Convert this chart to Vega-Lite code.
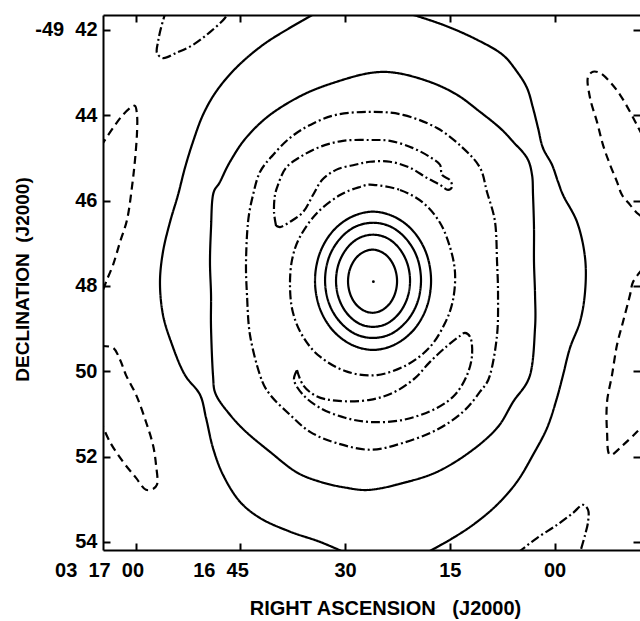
{
"$schema": "https://vega.github.io/schema/vega-lite/v6.json",
"width": 537, "height": 535,
"autosize": {"type": "none"},
"padding": {"left": 103, "top": 15, "right": 0, "bottom": 71},
"background": "white",
"config": {
 "view": {"stroke": null},
 "font": "Liberation Sans",
 "axis": {"domainColor": "black", "domainWidth": 2, "tickColor": "black", "tickWidth": 2, "tickSize": -7, "grid": false,
  "labelColor": "black", "labelFont": "Liberation Sans", "labelFontSize": 20, "labelFontWeight": "bold",
  "titleFont": "Liberation Sans", "titleFontSize": 20, "titleFontWeight": "bold", "titleColor": "black",
  "labelOverlap": false, "labelFlush": false}
},
"datasets": {
 "closed": [
  {"c":"B","k":"positive","i":0,"ra":26.42,"dec":43.01},{"c":"B","k":"positive","i":1,"ra":22.56,"dec":43.01},{"c":"B","k":"positive","i":2,"ra":17.83,"dec":43.22},{"c":"B","k":"positive","i":3,"ra":13.96,"dec":43.52},{"c":"B","k":"positive","i":4,"ra":10.67,"dec":43.92},{"c":"B","k":"positive","i":5,"ra":7.80,"dec":44.30},{"c":"B","k":"positive","i":6,"ra":5.94,"dec":44.62},{"c":"B","k":"positive","i":7,"ra":3.94,"dec":45.00},{"c":"B","k":"positive","i":8,"ra":3.22,"dec":45.40},{"c":"B","k":"positive","i":9,"ra":3.08,"dec":45.87},{"c":"B","k":"positive","i":10,"ra":2.94,"dec":46.64},{"c":"B","k":"positive","i":11,"ra":2.94,"dec":47.44},{"c":"B","k":"positive","i":12,"ra":2.79,"dec":48.21},{"c":"B","k":"positive","i":13,"ra":2.79,"dec":48.98},{"c":"B","k":"positive","i":14,"ra":3.51,"dec":50.09},{"c":"B","k":"positive","i":15,"ra":5.94,"dec":50.72},{"c":"B","k":"positive","i":16,"ra":8.23,"dec":51.33},{"c":"B","k":"positive","i":17,"ra":12.10,"dec":51.89},{"c":"B","k":"positive","i":18,"ra":16.83,"dec":52.36},{"c":"B","k":"positive","i":19,"ra":21.70,"dec":52.62},{"c":"B","k":"positive","i":20,"ra":26.42,"dec":52.78},{"c":"B","k":"positive","i":21,"ra":29.86,"dec":52.73},{"c":"B","k":"positive","i":22,"ra":33.58,"dec":52.59},{"c":"B","k":"positive","i":23,"ra":37.02,"dec":52.36},{"c":"B","k":"positive","i":24,"ra":40.74,"dec":51.89},{"c":"B","k":"positive","i":25,"ra":44.18,"dec":51.42},{"c":"B","k":"positive","i":26,"ra":46.47,"dec":51.02},{"c":"B","k":"positive","i":27,"ra":48.48,"dec":50.55},{"c":"B","k":"positive","i":28,"ra":48.91,"dec":50.09},{"c":"B","k":"positive","i":29,"ra":49.19,"dec":48.98},{"c":"B","k":"positive","i":30,"ra":49.19,"dec":48.21},{"c":"B","k":"positive","i":31,"ra":49.34,"dec":47.44},{"c":"B","k":"positive","i":32,"ra":49.19,"dec":46.64},{"c":"B","k":"positive","i":33,"ra":48.91,"dec":45.87},{"c":"B","k":"positive","i":34,"ra":47.90,"dec":45.56},{"c":"B","k":"positive","i":35,"ra":46.47,"dec":45.09},{"c":"B","k":"positive","i":36,"ra":44.18,"dec":44.53},{"c":"B","k":"positive","i":37,"ra":40.74,"dec":43.99},{"c":"B","k":"positive","i":38,"ra":36.02,"dec":43.52},{"c":"B","k":"positive","i":39,"ra":31.29,"dec":43.22},
  {"c":"C","k":"low","i":0,"ra":26.42,"dec":43.92},{"c":"C","k":"low","i":1,"ra":21.70,"dec":43.99},{"c":"C","k":"low","i":2,"ra":16.83,"dec":44.30},{"c":"C","k":"low","i":3,"ra":13.10,"dec":44.77},{"c":"C","k":"low","i":4,"ra":10.67,"dec":45.23},{"c":"C","k":"low","i":5,"ra":9.67,"dec":45.80},{"c":"C","k":"low","i":6,"ra":8.52,"dec":46.50},{"c":"C","k":"low","i":7,"ra":8.23,"dec":47.44},{"c":"C","k":"low","i":8,"ra":8.09,"dec":48.21},{"c":"C","k":"low","i":9,"ra":8.23,"dec":49.15},{"c":"C","k":"low","i":10,"ra":9.24,"dec":50.09},{"c":"C","k":"low","i":11,"ra":10.67,"dec":50.48},{"c":"C","k":"low","i":12,"ra":13.10,"dec":50.95},{"c":"C","k":"low","i":13,"ra":16.83,"dec":51.37},{"c":"C","k":"low","i":14,"ra":21.70,"dec":51.68},{"c":"C","k":"low","i":15,"ra":26.42,"dec":51.84},{"c":"C","k":"low","i":16,"ra":31.29,"dec":51.68},{"c":"C","k":"low","i":17,"ra":35.01,"dec":51.42},{"c":"C","k":"low","i":18,"ra":37.88,"dec":51.02},{"c":"C","k":"low","i":19,"ra":40.74,"dec":50.55},{"c":"C","k":"low","i":20,"ra":42.18,"dec":50.09},{"c":"C","k":"low","i":21,"ra":43.61,"dec":49.15},{"c":"C","k":"low","i":22,"ra":44.04,"dec":48.21},{"c":"C","k":"low","i":23,"ra":44.18,"dec":47.44},{"c":"C","k":"low","i":24,"ra":43.89,"dec":46.50},{"c":"C","k":"low","i":25,"ra":43.18,"dec":45.87},{"c":"C","k":"low","i":26,"ra":42.18,"dec":45.33},{"c":"C","k":"low","i":27,"ra":40.31,"dec":44.93},{"c":"C","k":"low","i":28,"ra":37.88,"dec":44.53},{"c":"C","k":"low","i":29,"ra":35.01,"dec":44.23},{"c":"C","k":"low","i":30,"ra":31.29,"dec":43.99},
  {"c":"E","k":"low","i":0,"ra":25.99,"dec":45.63},{"c":"E","k":"low","i":1,"ra":22.13,"dec":45.75},{"c":"E","k":"low","i":2,"ra":18.83,"dec":46.05},{"c":"E","k":"low","i":3,"ra":16.40,"dec":46.52},{"c":"E","k":"low","i":4,"ra":14.97,"dec":47.09},{"c":"E","k":"low","i":5,"ra":14.25,"dec":47.69},{"c":"E","k":"low","i":6,"ra":14.54,"dec":48.33},{"c":"E","k":"low","i":7,"ra":15.68,"dec":48.87},{"c":"E","k":"low","i":8,"ra":17.83,"dec":49.43},{"c":"E","k":"low","i":9,"ra":21.12,"dec":49.85},{"c":"E","k":"low","i":10,"ra":25.42,"dec":50.09},{"c":"E","k":"low","i":11,"ra":29.72,"dec":50.01},{"c":"E","k":"low","i":12,"ra":33.58,"dec":49.66},{"c":"E","k":"low","i":13,"ra":36.02,"dec":49.19},{"c":"E","k":"low","i":14,"ra":37.45,"dec":48.63},{"c":"E","k":"low","i":15,"ra":37.88,"dec":48.02},{"c":"E","k":"low","i":16,"ra":37.59,"dec":47.39},{"c":"E","k":"low","i":17,"ra":36.45,"dec":46.85},{"c":"E","k":"low","i":18,"ra":34.01,"dec":46.29},{"c":"E","k":"low","i":19,"ra":30.72,"dec":45.87},{"c":"E","k":"low","i":20,"ra":27.85,"dec":45.68},
  {"c":"R1","k":"positive","i":0,"ra":34.30,"dec":47.88},{"c":"R1","k":"positive","i":1,"ra":33.67,"dec":48.50},{"c":"R1","k":"positive","i":2,"ra":31.87,"dec":49.02},{"c":"R1","k":"positive","i":3,"ra":29.17,"dec":49.37},{"c":"R1","k":"positive","i":4,"ra":25.99,"dec":49.50},{"c":"R1","k":"positive","i":5,"ra":22.81,"dec":49.37},{"c":"R1","k":"positive","i":6,"ra":20.11,"dec":49.02},{"c":"R1","k":"positive","i":7,"ra":18.31,"dec":48.50},{"c":"R1","k":"positive","i":8,"ra":17.68,"dec":47.88},{"c":"R1","k":"positive","i":9,"ra":18.31,"dec":47.26},{"c":"R1","k":"positive","i":10,"ra":20.11,"dec":46.74},{"c":"R1","k":"positive","i":11,"ra":22.81,"dec":46.39},{"c":"R1","k":"positive","i":12,"ra":25.99,"dec":46.26},{"c":"R1","k":"positive","i":13,"ra":29.17,"dec":46.39},{"c":"R1","k":"positive","i":14,"ra":31.87,"dec":46.74},{"c":"R1","k":"positive","i":15,"ra":33.67,"dec":47.26},
  {"c":"R2","k":"positive","i":0,"ra":32.86,"dec":47.87},{"c":"R2","k":"positive","i":1,"ra":32.34,"dec":48.39},{"c":"R2","k":"positive","i":2,"ra":30.85,"dec":48.82},{"c":"R2","k":"positive","i":3,"ra":28.62,"dec":49.12},{"c":"R2","k":"positive","i":4,"ra":25.99,"dec":49.22},{"c":"R2","k":"positive","i":5,"ra":23.36,"dec":49.12},{"c":"R2","k":"positive","i":6,"ra":21.13,"dec":48.82},{"c":"R2","k":"positive","i":7,"ra":19.64,"dec":48.39},{"c":"R2","k":"positive","i":8,"ra":19.12,"dec":47.87},{"c":"R2","k":"positive","i":9,"ra":19.64,"dec":47.35},{"c":"R2","k":"positive","i":10,"ra":21.13,"dec":46.92},{"c":"R2","k":"positive","i":11,"ra":23.36,"dec":46.62},{"c":"R2","k":"positive","i":12,"ra":25.99,"dec":46.52},{"c":"R2","k":"positive","i":13,"ra":28.62,"dec":46.62},{"c":"R2","k":"positive","i":14,"ra":30.85,"dec":46.92},{"c":"R2","k":"positive","i":15,"ra":32.34,"dec":47.35},
  {"c":"R3","k":"positive","i":0,"ra":31.29,"dec":47.88},{"c":"R3","k":"positive","i":1,"ra":30.89,"dec":48.29},{"c":"R3","k":"positive","i":2,"ra":29.74,"dec":48.64},{"c":"R3","k":"positive","i":3,"ra":28.02,"dec":48.88},{"c":"R3","k":"positive","i":4,"ra":25.99,"dec":48.96},{"c":"R3","k":"positive","i":5,"ra":23.96,"dec":48.88},{"c":"R3","k":"positive","i":6,"ra":22.24,"dec":48.64},{"c":"R3","k":"positive","i":7,"ra":21.09,"dec":48.29},{"c":"R3","k":"positive","i":8,"ra":20.69,"dec":47.88},{"c":"R3","k":"positive","i":9,"ra":21.09,"dec":47.47},{"c":"R3","k":"positive","i":10,"ra":22.24,"dec":47.12},{"c":"R3","k":"positive","i":11,"ra":23.96,"dec":46.88},{"c":"R3","k":"positive","i":12,"ra":25.99,"dec":46.80},{"c":"R3","k":"positive","i":13,"ra":28.02,"dec":46.88},{"c":"R3","k":"positive","i":14,"ra":29.74,"dec":47.12},{"c":"R3","k":"positive","i":15,"ra":30.89,"dec":47.47},
  {"c":"R4","k":"positive","i":0,"ra":29.57,"dec":47.89},{"c":"R4","k":"positive","i":1,"ra":29.30,"dec":48.17},{"c":"R4","k":"positive","i":2,"ra":28.54,"dec":48.41},{"c":"R4","k":"positive","i":3,"ra":27.40,"dec":48.57},{"c":"R4","k":"positive","i":4,"ra":26.06,"dec":48.63},{"c":"R4","k":"positive","i":5,"ra":24.72,"dec":48.57},{"c":"R4","k":"positive","i":6,"ra":23.58,"dec":48.41},{"c":"R4","k":"positive","i":7,"ra":22.82,"dec":48.17},{"c":"R4","k":"positive","i":8,"ra":22.55,"dec":47.89},{"c":"R4","k":"positive","i":9,"ra":22.82,"dec":47.61},{"c":"R4","k":"positive","i":10,"ra":23.58,"dec":47.37},{"c":"R4","k":"positive","i":11,"ra":24.72,"dec":47.21},{"c":"R4","k":"positive","i":12,"ra":26.06,"dec":47.15},{"c":"R4","k":"positive","i":13,"ra":27.40,"dec":47.21},{"c":"R4","k":"positive","i":14,"ra":28.54,"dec":47.37},{"c":"R4","k":"positive","i":15,"ra":29.30,"dec":47.61}
 ],
 "open": [
  {"c":"A1","k":"positive","i":0,"ra":33.58,"dec":41.55},{"c":"A1","k":"positive","i":1,"ra":37.88,"dec":41.95},{"c":"A1","k":"positive","i":2,"ra":41.75,"dec":42.35},{"c":"A1","k":"positive","i":3,"ra":45.61,"dec":42.89},{"c":"A1","k":"positive","i":4,"ra":48.48,"dec":43.45},{"c":"A1","k":"positive","i":5,"ra":50.34,"dec":43.99},{"c":"A1","k":"positive","i":6,"ra":51.77,"dec":44.62},{"c":"A1","k":"positive","i":7,"ra":52.92,"dec":45.23},{"c":"A1","k":"positive","i":8,"ra":53.92,"dec":45.87},{"c":"A1","k":"positive","i":9,"ra":55.06,"dec":46.50},{"c":"A1","k":"positive","i":10,"ra":56.07,"dec":47.20},{"c":"A1","k":"positive","i":11,"ra":56.50,"dec":47.91},{"c":"A1","k":"positive","i":12,"ra":56.07,"dec":48.68},{"c":"A1","k":"positive","i":13,"ra":54.92,"dec":49.31},{"c":"A1","k":"positive","i":14,"ra":52.92,"dec":50.09},{"c":"A1","k":"positive","i":15,"ra":50.77,"dec":50.55},{"c":"A1","k":"positive","i":16,"ra":49.91,"dec":51.09},{"c":"A1","k":"positive","i":17,"ra":48.91,"dec":51.80},{"c":"A1","k":"positive","i":18,"ra":47.47,"dec":52.43},{"c":"A1","k":"positive","i":19,"ra":45.04,"dec":53.06},{"c":"A1","k":"positive","i":20,"ra":42.18,"dec":53.44},{"c":"A1","k":"positive","i":21,"ra":37.88,"dec":53.76},{"c":"A1","k":"positive","i":22,"ra":33.58,"dec":54.00},{"c":"A1","k":"positive","i":23,"ra":30.00,"dec":54.25},
  {"c":"A2","k":"positive","i":0,"ra":22.13,"dec":41.55},{"c":"A2","k":"positive","i":1,"ra":15.97,"dec":41.88},{"c":"A2","k":"positive","i":2,"ra":11.10,"dec":42.23},{"c":"A2","k":"positive","i":3,"ra":7.38,"dec":42.59},{"c":"A2","k":"positive","i":4,"ra":5.37,"dec":42.98},{"c":"A2","k":"positive","i":5,"ra":3.94,"dec":43.36},{"c":"A2","k":"positive","i":6,"ra":3.08,"dec":43.83},{"c":"A2","k":"positive","i":7,"ra":2.36,"dec":44.30},{"c":"A2","k":"positive","i":8,"ra":1.65,"dec":44.77},{"c":"A2","k":"positive","i":9,"ra":0.36,"dec":45.16},{"c":"A2","k":"positive","i":10,"ra":-0.50,"dec":45.56},{"c":"A2","k":"positive","i":11,"ra":-1.22,"dec":45.87},{"c":"A2","k":"positive","i":12,"ra":-3.22,"dec":46.50},{"c":"A2","k":"positive","i":13,"ra":-4.37,"dec":47.34},{"c":"A2","k":"positive","i":14,"ra":-4.37,"dec":48.14},{"c":"A2","k":"positive","i":15,"ra":-3.65,"dec":48.84},{"c":"A2","k":"positive","i":16,"ra":-2.22,"dec":49.45},{"c":"A2","k":"positive","i":17,"ra":-1.22,"dec":50.09},{"c":"A2","k":"positive","i":18,"ra":-0.36,"dec":50.62},{"c":"A2","k":"positive","i":19,"ra":1.07,"dec":51.33},{"c":"A2","k":"positive","i":20,"ra":3.08,"dec":51.96},{"c":"A2","k":"positive","i":21,"ra":5.37,"dec":52.59},{"c":"A2","k":"positive","i":22,"ra":8.23,"dec":53.13},{"c":"A2","k":"positive","i":23,"ra":11.67,"dec":53.60},{"c":"A2","k":"positive","i":24,"ra":14.97,"dec":53.95},{"c":"A2","k":"positive","i":25,"ra":18.26,"dec":54.25},
  {"c":"D","k":"low","i":0,"ra":39.88,"dec":46.59},{"c":"D","k":"low","i":1,"ra":40.17,"dec":46.27},{"c":"D","k":"low","i":2,"ra":40.03,"dec":45.87},{"c":"D","k":"low","i":3,"ra":39.60,"dec":45.63},{"c":"D","k":"low","i":4,"ra":38.45,"dec":45.23},{"c":"D","k":"low","i":5,"ra":36.45,"dec":44.98},{"c":"D","k":"low","i":6,"ra":33.58,"dec":44.74},{"c":"D","k":"low","i":7,"ra":30.29,"dec":44.60},{"c":"D","k":"low","i":8,"ra":26.42,"dec":44.58},{"c":"D","k":"low","i":9,"ra":23.56,"dec":44.60},{"c":"D","k":"low","i":10,"ra":20.26,"dec":44.77},{"c":"D","k":"low","i":11,"ra":17.83,"dec":44.98},{"c":"D","k":"low","i":12,"ra":16.40,"dec":45.16},{"c":"D","k":"low","i":13,"ra":16.11,"dec":45.40},{"c":"D","k":"low","i":14,"ra":14.97,"dec":45.52},{"c":"D","k":"low","i":15,"ra":14.68,"dec":45.68},{"c":"D","k":"low","i":16,"ra":15.25,"dec":45.75},{"c":"D","k":"low","i":17,"ra":16.40,"dec":45.63},{"c":"D","k":"low","i":18,"ra":18.26,"dec":45.47},{"c":"D","k":"low","i":19,"ra":20.69,"dec":45.23},{"c":"D","k":"low","i":20,"ra":23.56,"dec":45.09},{"c":"D","k":"low","i":21,"ra":26.42,"dec":45.09},{"c":"D","k":"low","i":22,"ra":28.57,"dec":45.16},{"c":"D","k":"low","i":23,"ra":31.29,"dec":45.28},{"c":"D","k":"low","i":24,"ra":33.30,"dec":45.52},{"c":"D","k":"low","i":25,"ra":34.59,"dec":45.87},{"c":"D","k":"low","i":26,"ra":36.02,"dec":46.27},{"c":"D","k":"low","i":27,"ra":37.88,"dec":46.50},{"c":"D","k":"low","i":28,"ra":39.31,"dec":46.62},{"c":"D","k":"low","i":29,"ra":39.88,"dec":46.59},
  {"c":"F","k":"low","i":0,"ra":36.88,"dec":49.97},{"c":"F","k":"low","i":1,"ra":36.02,"dec":50.32},{"c":"F","k":"low","i":2,"ra":34.16,"dec":50.58},{"c":"F","k":"low","i":3,"ra":31.29,"dec":50.69},{"c":"F","k":"low","i":4,"ra":26.42,"dec":50.67},{"c":"F","k":"low","i":5,"ra":22.84,"dec":50.48},{"c":"F","k":"low","i":6,"ra":19.98,"dec":50.16},{"c":"F","k":"low","i":7,"ra":17.83,"dec":49.78},{"c":"F","k":"low","i":8,"ra":15.40,"dec":49.41},{"c":"F","k":"low","i":9,"ra":13.53,"dec":49.17},{"c":"F","k":"low","i":10,"ra":12.82,"dec":49.10},{"c":"F","k":"low","i":11,"ra":12.10,"dec":49.19},{"c":"F","k":"low","i":12,"ra":11.81,"dec":49.62},{"c":"F","k":"low","i":13,"ra":12.53,"dec":50.09},{"c":"F","k":"low","i":14,"ra":14.25,"dec":50.55},{"c":"F","k":"low","i":15,"ra":16.83,"dec":50.86},{"c":"F","k":"low","i":16,"ra":21.70,"dec":51.14},{"c":"F","k":"low","i":17,"ra":26.42,"dec":51.19},{"c":"F","k":"low","i":18,"ra":30.00,"dec":51.09},{"c":"F","k":"low","i":19,"ra":33.58,"dec":50.86},{"c":"F","k":"low","i":20,"ra":36.02,"dec":50.55},{"c":"F","k":"low","i":21,"ra":37.31,"dec":50.20},{"c":"F","k":"low","i":22,"ra":36.88,"dec":49.97},
  {"c":"G","k":"low","i":0,"ra":55.64,"dec":41.55},{"c":"G","k":"low","i":1,"ra":56.35,"dec":41.95},{"c":"G","k":"low","i":2,"ra":56.78,"dec":42.28},{"c":"G","k":"low","i":3,"ra":56.93,"dec":42.54},{"c":"G","k":"low","i":4,"ra":56.07,"dec":42.66},{"c":"G","k":"low","i":5,"ra":54.21,"dec":42.54},{"c":"G","k":"low","i":6,"ra":51.77,"dec":42.35},{"c":"G","k":"low","i":7,"ra":49.34,"dec":42.05},{"c":"G","k":"low","i":8,"ra":47.19,"dec":41.72},{"c":"G","k":"low","i":9,"ra":46.61,"dec":41.55},
  {"c":"H","k":"negative","i":0,"ra":64.95,"dec":44.72},{"c":"H","k":"negative","i":1,"ra":63.23,"dec":44.30},{"c":"H","k":"negative","i":2,"ra":61.80,"dec":43.99},{"c":"H","k":"negative","i":3,"ra":60.51,"dec":43.80},{"c":"H","k":"negative","i":4,"ra":60.08,"dec":43.78},{"c":"H","k":"negative","i":5,"ra":59.79,"dec":43.99},{"c":"H","k":"negative","i":6,"ra":59.79,"dec":44.41},{"c":"H","k":"negative","i":7,"ra":60.08,"dec":45.05},{"c":"H","k":"negative","i":8,"ra":60.51,"dec":45.68},{"c":"H","k":"negative","i":9,"ra":61.22,"dec":46.45},{"c":"H","k":"negative","i":10,"ra":62.22,"dec":46.97},{"c":"H","k":"negative","i":11,"ra":63.23,"dec":47.51},{"c":"H","k":"negative","i":12,"ra":64.23,"dec":47.91},{"c":"H","k":"negative","i":13,"ra":64.95,"dec":48.23},
  {"c":"I","k":"negative","i":0,"ra":64.95,"dec":49.41},{"c":"I","k":"negative","i":1,"ra":63.23,"dec":49.45},{"c":"I","k":"negative","i":2,"ra":62.22,"dec":49.73},{"c":"I","k":"negative","i":3,"ra":61.37,"dec":50.09},{"c":"I","k":"negative","i":4,"ra":59.93,"dec":50.55},{"c":"I","k":"negative","i":5,"ra":58.50,"dec":51.19},{"c":"I","k":"negative","i":6,"ra":57.50,"dec":51.73},{"c":"I","k":"negative","i":7,"ra":57.07,"dec":52.19},{"c":"I","k":"negative","i":8,"ra":56.93,"dec":52.66},{"c":"I","k":"negative","i":9,"ra":57.50,"dec":52.76},{"c":"I","k":"negative","i":10,"ra":58.50,"dec":52.78},{"c":"I","k":"negative","i":11,"ra":59.93,"dec":52.50},{"c":"I","k":"negative","i":12,"ra":61.80,"dec":52.12},{"c":"I","k":"negative","i":13,"ra":63.66,"dec":51.66},{"c":"I","k":"negative","i":14,"ra":64.95,"dec":51.19},
  {"c":"J","k":"negative","i":0,"ra":-12.53,"dec":44.46},{"c":"J","k":"negative","i":1,"ra":-11.81,"dec":44.23},{"c":"J","k":"negative","i":2,"ra":-10.81,"dec":43.92},{"c":"J","k":"negative","i":3,"ra":-9.38,"dec":43.52},{"c":"J","k":"negative","i":4,"ra":-7.95,"dec":43.22},{"c":"J","k":"negative","i":5,"ra":-6.52,"dec":43.01},{"c":"J","k":"negative","i":6,"ra":-5.51,"dec":42.98},{"c":"J","k":"negative","i":7,"ra":-4.80,"dec":43.10},{"c":"J","k":"negative","i":8,"ra":-5.08,"dec":43.59},{"c":"J","k":"negative","i":9,"ra":-6.09,"dec":44.16},{"c":"J","k":"negative","i":10,"ra":-6.95,"dec":44.70},{"c":"J","k":"negative","i":11,"ra":-7.95,"dec":45.16},{"c":"J","k":"negative","i":12,"ra":-8.95,"dec":45.56},{"c":"J","k":"negative","i":13,"ra":-9.67,"dec":45.87},{"c":"J","k":"negative","i":14,"ra":-10.81,"dec":46.10},{"c":"J","k":"negative","i":15,"ra":-11.81,"dec":46.29},{"c":"J","k":"negative","i":16,"ra":-12.53,"dec":46.38},
  {"c":"K","k":"negative","i":0,"ra":-12.53,"dec":47.62},{"c":"K","k":"negative","i":1,"ra":-11.24,"dec":47.91},{"c":"K","k":"negative","i":2,"ra":-10.81,"dec":48.21},{"c":"K","k":"negative","i":3,"ra":-9.81,"dec":48.84},{"c":"K","k":"negative","i":4,"ra":-8.95,"dec":49.38},{"c":"K","k":"negative","i":5,"ra":-8.23,"dec":50.09},{"c":"K","k":"negative","i":6,"ra":-7.52,"dec":50.72},{"c":"K","k":"negative","i":7,"ra":-7.52,"dec":51.42},{"c":"K","k":"negative","i":8,"ra":-7.95,"dec":51.96},{"c":"K","k":"negative","i":9,"ra":-9.81,"dec":51.73},{"c":"K","k":"negative","i":10,"ra":-11.81,"dec":51.42},{"c":"K","k":"negative","i":11,"ra":-12.53,"dec":51.30},
  {"c":"L","k":"low","i":0,"ra":5.23,"dec":54.25},{"c":"L","k":"low","i":1,"ra":2.51,"dec":53.91},{"c":"L","k":"low","i":2,"ra":-0.36,"dec":53.60},{"c":"L","k":"low","i":3,"ra":-2.65,"dec":53.32},{"c":"L","k":"low","i":4,"ra":-4.08,"dec":53.13},{"c":"L","k":"low","i":5,"ra":-4.80,"dec":53.25},{"c":"L","k":"low","i":6,"ra":-4.80,"dec":53.53},{"c":"L","k":"low","i":7,"ra":-4.37,"dec":53.84},{"c":"L","k":"low","i":8,"ra":-3.65,"dec":54.25}
 ],
 "peak": [{"ra": 25.94, "dec": 47.90}]
},
"resolve": {"axis": {"x": "independent", "y": "independent"}},
"layer": [
 {
  "data": {"name": "closed"},
  "mark": {"type": "line", "interpolate": "cardinal-closed", "strokeWidth": 2.2, "color": "black", "clip": true},
  "encoding": {
   "x": {"field": "ra", "type": "quantitative", "scale": {"domain": [-12.24, 64.66], "reverse": true, "nice": false, "zero": false},
    "axis": {"orient": "bottom", "values": [60, 45, 30, 15, 0],
     "labelExpr": "datum.value == 60 ? '03\u00a0\u00a017\u00a0\u00a000' : datum.value == 45 ? '16\u00a0\u00a045' : datum.value == 0 ? '00' : datum.label",
     "labelAlign": {"condition": {"test": "datum.value >= 45", "value": "right"}, "value": "center"},
     "labelOffset": {"condition": {"test": "datum.value >= 45", "value": 8}, "value": 0},
     "labelPadding": 17,
     "title": "RIGHT ASCENSION\u00a0\u00a0\u00a0(J2000)", "titleX": 282, "titleY": 64, "titleAlign": "center", "titleBaseline": "alphabetic"}},
   "y": {"field": "dec", "type": "quantitative", "scale": {"domain": [41.65, 54.19], "reverse": true, "nice": false, "zero": false},
    "axis": {"orient": "left", "values": [42, 44, 46, 48, 50, 52, 54],
     "labelExpr": "datum.value == 42 ? '-49\u00a0\u00a042' : datum.label",
     "labelPadding": 13,
     "title": "DECLINATION\u00a0\u00a0(J2000)", "titleFontSize": 19, "titleX": -75, "titleY": 264, "titleAngle": -90, "titleAlign": "center", "titleBaseline": "alphabetic"}},
   "detail": {"field": "c"},
   "order": {"field": "i", "type": "quantitative"},
   "strokeDash": {"field": "k", "type": "nominal", "scale": {"domain": ["positive", "low", "negative"], "range": [[1, 0], [9, 3, 2, 3], [8, 5]]}, "legend": null}
  }
 },
 {
  "data": {"name": "open"},
  "mark": {"type": "line", "interpolate": "catmull-rom", "strokeWidth": 2.2, "color": "black", "clip": true},
  "encoding": {
   "x": {"field": "ra", "type": "quantitative", "scale": {"domain": [-12.24, 64.66], "reverse": true, "nice": false, "zero": false},
    "axis": {"orient": "top", "values": [60, 45, 30, 15, 0], "labels": false, "title": null}},
   "y": {"field": "dec", "type": "quantitative", "scale": {"domain": [41.65, 54.19], "reverse": true, "nice": false, "zero": false},
    "axis": {"orient": "right", "values": [42, 44, 46, 48, 50, 52, 54], "labels": false, "title": null, "domain": false}},
   "detail": {"field": "c"},
   "order": {"field": "i", "type": "quantitative"},
   "strokeDash": {"field": "k", "type": "nominal", "scale": {"domain": ["positive", "low", "negative"], "range": [[1, 0], [9, 3, 2, 3], [8, 5]]}, "legend": null}
  }
 },
 {
  "data": {"name": "peak"},
  "mark": {"type": "circle", "size": 8, "color": "black", "opacity": 1},
  "encoding": {
   "x": {"field": "ra", "type": "quantitative", "axis": null},
   "y": {"field": "dec", "type": "quantitative", "axis": null}
  }
 }
]
}
